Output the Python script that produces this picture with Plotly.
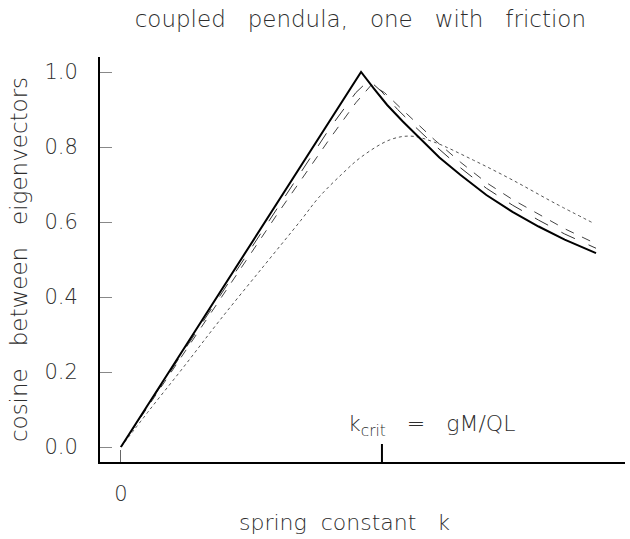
import plotly.graph_objects as go

# spring constant k, in units where k_crit = 1
K_CRIT = 1.0

# no-friction limit (solid)
k_solid = [0.0, 0.92, 0.97, 1.02, 1.08, 1.15, 1.22, 1.3, 1.4, 1.5, 1.6, 1.7, 1.82]
cos_solid = [0.0, 1.0, 0.955, 0.912, 0.868, 0.82, 0.772, 0.726, 0.672, 0.627,
             0.588, 0.553, 0.517]

# small friction (dashed)
k_dash1 = [0.0, 0.2, 0.4, 0.6, 0.8, 0.9, 0.95, 1.0, 1.06, 1.13, 1.2, 1.3, 1.4,
           1.5, 1.6, 1.7, 1.82]
cos_dash1 = [0.0, 0.213, 0.427, 0.64, 0.85, 0.945, 0.978, 0.947, 0.9, 0.852,
             0.806, 0.745, 0.69, 0.645, 0.605, 0.568, 0.53]

k_dash2 = [0.0, 0.2, 0.4, 0.6, 0.8, 0.9, 0.96, 1.01, 1.07, 1.14, 1.2, 1.3, 1.4,
           1.5, 1.6, 1.7, 1.82]
cos_dash2 = [0.0, 0.208, 0.415, 0.622, 0.822, 0.918, 0.966, 0.945, 0.905, 0.86,
             0.82, 0.76, 0.705, 0.66, 0.62, 0.582, 0.542]

# large friction (dotted)
k_dot = [0.0, 0.11, 0.24, 0.38, 0.55, 0.69, 0.76, 0.85, 0.92, 1.03, 1.11,
         1.2, 1.35, 1.5, 1.66, 1.81]
cos_dot = [0.0, 0.099, 0.213, 0.339, 0.485, 0.605, 0.667, 0.73, 0.773, 0.819,
           0.829, 0.813, 0.765, 0.712, 0.651, 0.597]

y_ticks = [0.0, 0.2, 0.4, 0.6, 0.8, 1.0]
y_labels = ["0.0", "0.2", "0.4", "0.6", "0.8", "1.0"]

FONT = "DejaVu Sans"
TXT = "#2e2e2e"


def thin(size):
    return dict(family=FONT, size=size, color=TXT, weight=200)


fig = go.Figure()
fig.add_trace(go.Scatter(x=k_dot, y=cos_dot, mode="lines",
                         line=dict(color="#555555", width=1, dash="dot", shape="spline")))
fig.add_trace(go.Scatter(x=k_dash2, y=cos_dash2, mode="lines",
                         line=dict(color="#444444", width=1, dash="dash")))
fig.add_trace(go.Scatter(x=k_dash1, y=cos_dash1, mode="lines",
                         line=dict(color="#333333", width=1, dash="longdash")))
fig.add_trace(go.Scatter(x=k_solid, y=cos_solid, mode="lines",
                         line=dict(color="black", width=2)))

# k_crit marker on the k axis
fig.add_shape(type="line", x0=K_CRIT, x1=K_CRIT, y0=-0.04, y1=0.008,
              line=dict(color="black", width=2))
fig.add_annotation(x=K_CRIT, y=0.013, xanchor="center", yanchor="bottom",
                   text="k<sub>crit</sub>   =   gM/QL", showarrow=False,
                   xshift=50, font=thin(22))

# k axis title
fig.add_annotation(x=0.466, xref="paper", y=0, yref="paper", yshift=-75,
                   yanchor="bottom", xanchor="center",
                   text="spring  constant   k", showarrow=False, font=thin(22))

fig.update_layout(
    width=630, height=539,
    margin=dict(l=100, r=5, t=57, b=77),
    paper_bgcolor="white", plot_bgcolor="white",
    showlegend=False,
    title=dict(text="coupled   pendula,   one   with   friction", x=0.572,
               xanchor="center", y=0.965, yanchor="middle", font=thin(23)),
    xaxis=dict(range=[-0.08, 1.931], showgrid=False, zeroline=False,
               showline=True, linecolor="black", linewidth=2,
               tickvals=[0], ticktext=["0"], ticks="inside", ticklen=12,
               tickcolor="#666666", tickwidth=1, ticklabelstandoff=12,
               tickfont=thin(21)),
    yaxis=dict(range=[-0.04, 1.04], showgrid=False, zeroline=False,
               showline=True, linecolor="black", linewidth=2,
               tickvals=y_ticks, ticktext=y_labels, ticks="inside", ticklen=12,
               tickcolor="#888888", tickwidth=1, ticklabelstandoff=16,
               tickfont=thin(21),
               title=dict(text="cosine   between   eigenvectors", standoff=10,
                          font=thin(23))),
)

fig.write_html("out.html")
